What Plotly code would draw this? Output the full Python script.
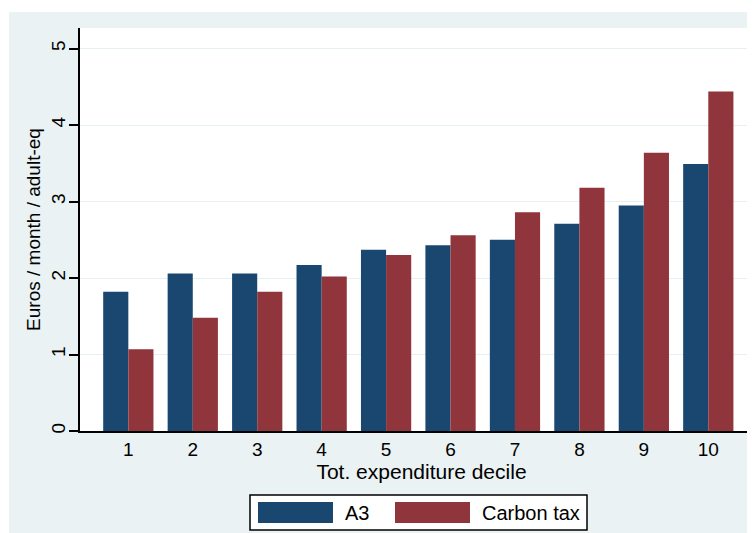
import plotly.graph_objects as go

deciles = ["1", "2", "3", "4", "5", "6", "7", "8", "9", "10"]
a3 = [1.82, 2.06, 2.06, 2.17, 2.37, 2.43, 2.50, 2.71, 2.95, 3.49]
carbon_tax = [1.07, 1.48, 1.82, 2.02, 2.30, 2.56, 2.86, 3.18, 3.64, 4.44]
series_names = ["A3", "Carbon tax"]
series_colors = ["#1A476F", "#90353B"]
y_ticks = [0, 1, 2, 3, 4, 5]

OFF = 8  # page body margin
W, H = 755, 533
# plot area in screen pixels: x 80..763 (cropped by window), y 28..431
L, T = 80 - OFF, 28 - OFF
R = 0
B = H - (431 - OFF)
pw, ph = W - L - R, H - T - B
spacing = 64.44
x_hi = pw / spacing - 0.75

def px(x):
    return (x - OFF - L) / pw

def py(y):
    return (H - B - (y - OFF)) / ph

FONT = "Liberation Sans, Arial, sans-serif"

fig = go.Figure()
for name, vals, col in zip(series_names, [a3, carbon_tax], series_colors):
    fig.add_trace(go.Bar(x=deciles, y=vals, name=name, marker=dict(color=col, line=dict(width=0)),
                         showlegend=False))

shapes = [
    dict(type="rect", xref="paper", yref="paper", x0=px(9), x1=px(760), y0=py(560), y1=py(12),
         fillcolor="#EAF2F3", line=dict(width=0), layer="below"),
    dict(type="rect", xref="paper", yref="paper", x0=0, x1=px(800), y0=0, y1=1,
         fillcolor="white", line=dict(width=0), layer="below"),
    dict(type="rect", xref="paper", yref="paper", x0=px(250), x1=px(587), y0=py(530), y1=py(495),
         fillcolor="white", line=dict(color="black", width=1.5), layer="above"),
]
annotations = []
sw = [(258, 333, 343), (395, 470, 480)]
for (x0, x1, tx), name, col in zip(sw, series_names, series_colors):
    shapes.append(dict(type="rect", xref="paper", yref="paper", x0=px(x0), x1=px(x1), y0=py(523), y1=py(502),
                       fillcolor=col, line=dict(width=0), layer="above"))
    annotations.append(dict(text=name, xref="paper", yref="paper", x=px(tx), y=py(513),
                            xanchor="left", yanchor="middle", showarrow=False,
                            font=dict(family=FONT, size=20, color="black")))

fig.update_layout(
    width=W, height=H,
    margin=dict(l=L, r=R, t=T, b=B, pad=0),
    paper_bgcolor="white", plot_bgcolor="white",
    barmode="group", bargap=0.22, bargroupgap=0,
    font=dict(family=FONT, size=19, color="black"),
    shapes=shapes, annotations=annotations,
    xaxis=dict(type="category", showgrid=False, showline=True, linecolor="black", linewidth=1.8,
               ticks="", tickfont=dict(size=19), ticklabelstandoff=0,
               title=dict(text="Tot. expenditure decile", font=dict(size=21), standoff=0),
               range=[-0.75, x_hi], zeroline=False),
    yaxis=dict(range=[0, 5.27], tickvals=y_ticks, showgrid=True, gridcolor="#E6EFF1", gridwidth=1,
               showline=True, linecolor="black", linewidth=1.8, ticks="outside", ticklen=9,
               tickcolor="black", tickwidth=1.5, tickangle=-90, tickfont=dict(size=19), zeroline=False,
               ticklabelstandoff=-3,
               title=dict(text="Euros / month / adult-eq", font=dict(size=19), standoff=2)),
)

fig.write_html("out.html")
